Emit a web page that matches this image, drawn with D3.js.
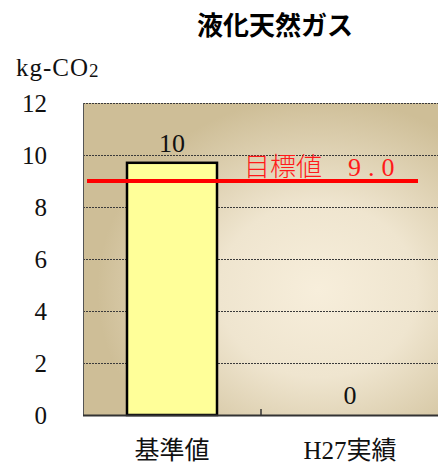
<!DOCTYPE html>
<html>
<head>
<meta charset="utf-8">
<script src="https://cdn.jsdelivr.net/npm/d3@7"></script>
<style>
  html, body { margin: 0; padding: 0; background: #fff; }
  svg { display: block; }
</style>
</head>
<body>
<svg id="chart" width="438" height="464"></svg>
<script>
// Emissions from liquefied natural gas: baseline vs. FY H27 actual, with target line
const titleText = "液化天然ガス";
const categories = ["基準値", "H27実績"];
const values = [9.7, 0];
const targetValue = 9.0;
const targetText = "目標値";
const yTicks = [0, 2, 4, 6, 8, 10, 12];

const svg = d3.select("#chart");
const serif = "'Liberation Serif', 'Noto Sans CJK JP', serif";
const gothic = "'Noto Sans CJK JP', sans-serif";

const plot = { left: 83, right: 439, top: 103, bottom: 415 };

const x = d3.scaleBand().domain(categories).range([plot.left, plot.right]).padding(0);
const y = d3.scaleLinear().domain([0, 12]).range([plot.bottom, plot.top]);

// Plot-area fill: light centre fading to tan edges
const defs = svg.append("defs");
const grad = defs.append("radialGradient")
  .attr("id", "bg").attr("cx", 0.66).attr("cy", 0.6).attr("r", 0.62)
  .attr("fx", 0.66).attr("fy", 0.6);
grad.append("stop").attr("offset", "0").attr("stop-color", "#f7eedb");
grad.append("stop").attr("offset", "0.45").attr("stop-color", "#efe5cf");
grad.append("stop").attr("offset", "1").attr("stop-color", "#cebe97");

svg.append("rect")
  .attr("x", plot.left).attr("y", plot.top)
  .attr("width", plot.right - plot.left).attr("height", plot.bottom - plot.top)
  .attr("fill", "url(#bg)");

// Dotted gridlines
svg.append("g").selectAll("line")
  .data(yTicks.filter(d => d > 0))
  .join("line")
  .attr("x1", plot.left).attr("x2", plot.right)
  .attr("y1", d => y(d) + 0.5).attr("y2", d => y(d) + 0.5)
  .attr("stroke", "#3a3a3a").attr("stroke-width", 1)
  .attr("stroke-dasharray", "2,1");

// Left axis line
svg.append("line")
  .attr("x1", plot.left + 0.5).attr("x2", plot.left + 0.5)
  .attr("y1", plot.top).attr("y2", plot.bottom)
  .attr("stroke", "#555").attr("stroke-width", 1);

// Y tick labels
svg.append("g").selectAll("text")
  .data(yTicks)
  .join("text")
  .attr("x", 47).attr("y", d => y(d))
  .attr("text-anchor", "end").attr("dominant-baseline", "central")
  .attr("font-family", serif).attr("font-size", 25).attr("fill", "#111")
  .text(d => d);

// Bars
const barW = 90;
svg.append("g").selectAll("rect")
  .data(categories.map((c, i) => ({ c, v: values[i] })).filter(d => d.v > 0))
  .join("rect")
  .attr("x", d => x(d.c) + x.bandwidth() / 2 - barW / 2)
  .attr("y", d => y(d.v))
  .attr("width", barW)
  .attr("height", d => y(0) - y(d.v))
  .attr("fill", "#ffff99").attr("stroke", "#000").attr("stroke-width", 2.5);

// Bottom axis with ticks at category boundaries
svg.append("line")
  .attr("x1", plot.left).attr("x2", plot.right)
  .attr("y1", y(0) + 0.5).attr("y2", y(0) + 0.5)
  .attr("stroke", "#333").attr("stroke-width", 2);
svg.append("g").selectAll("line")
  .data(categories)
  .join("line")
  .attr("x1", d => x(d) + x.bandwidth()).attr("x2", d => x(d) + x.bandwidth())
  .attr("y1", y(0)).attr("y2", y(0) - 6)
  .attr("stroke", "#333").attr("stroke-width", 1.5);

// Value labels
const fmt = d3.format(".0f");
svg.append("g").selectAll("text")
  .data(categories.map((c, i) => ({ c, v: values[i] })))
  .join("text")
  .attr("x", d => x(d.c) + x.bandwidth() / 2)
  .attr("y", d => y(d.v) - 11)
  .attr("text-anchor", "middle")
  .attr("font-family", serif).attr("font-size", 26).attr("fill", "#111")
  .text(d => fmt(d.v));

// Category labels
svg.append("g").selectAll("text")
  .data(categories)
  .join("text")
  .attr("x", d => x(d) + x.bandwidth() / 2)
  .attr("y", 459)
  .attr("text-anchor", "middle")
  .attr("font-family", serif).attr("font-size", 25).attr("fill", "#111")
  .text(d => d);

// Target line and label
svg.append("line")
  .attr("x1", plot.left + 4).attr("x2", plot.right - 21)
  .attr("y1", y(targetValue)).attr("y2", y(targetValue))
  .attr("stroke", "#ff0000").attr("stroke-width", 4);
const tl = svg.append("text")
  .attr("x", 244).attr("y", y(targetValue) - 5)
  .attr("font-family", gothic).attr("font-size", 26).attr("font-weight", 300)
  .attr("fill", "#ff1a1a");
tl.append("tspan").text(targetText + "\u3000");
tl.append("tspan").attr("font-family", serif).attr("letter-spacing", 7)
  .text(targetValue.toFixed(1));

// Unit label
const unit = svg.append("text")
  .attr("x", 16).attr("y", 76)
  .attr("font-family", serif).attr("font-size", 25).attr("fill", "#111")
  .attr("letter-spacing", 1);
unit.append("tspan").text("kg-CO");
unit.append("tspan").attr("font-size", 19).attr("dy", 1).text("2");

// Title
svg.append("text")
  .attr("x", 275).attr("y", 35)
  .attr("text-anchor", "middle")
  .attr("font-family", gothic).attr("font-weight", 700).attr("font-size", 26)
  .attr("fill", "#000")
  .text(titleText);
</script>
</body>
</html>
